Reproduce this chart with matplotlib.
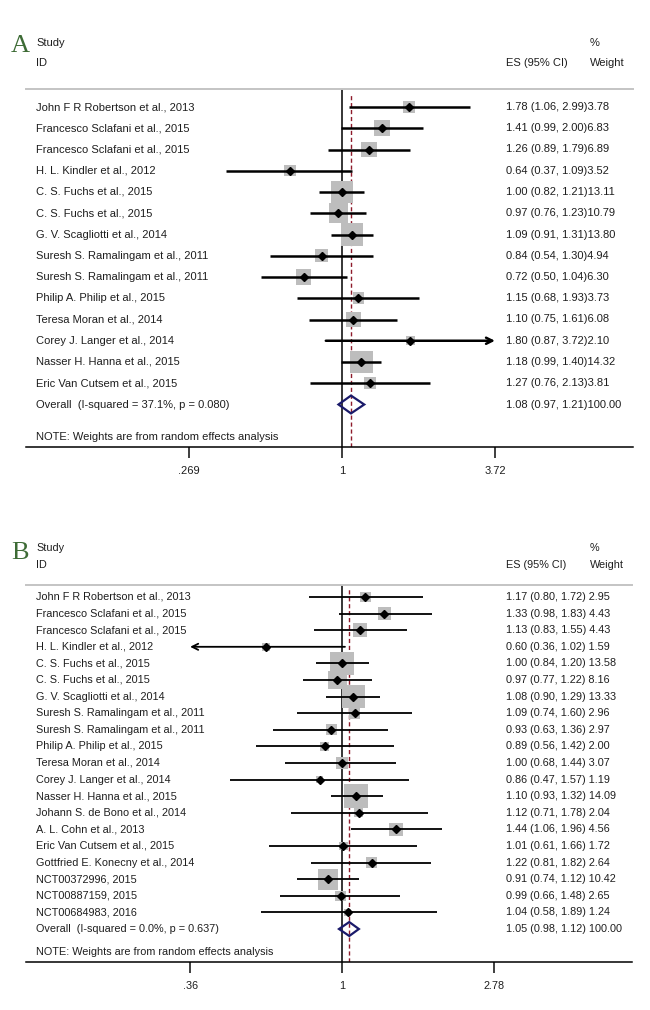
import matplotlib.pyplot as plt
import matplotlib.transforms as mtransforms
from matplotlib.patches import Polygon
from matplotlib.ticker import FixedLocator, NullLocator
import numpy as np

plt.rcParams["font.family"] = ["Liberation Sans", "DejaVu Sans"]

W, H = 650, 1010
TXT = "#1e1e1e"
BOX_GRAY = "#bdbdbd"
NAVY = "#1a1a6a"
DASH_RED = "#8e1b2b"
GREEN = "#3d6b35"

# ── panel A data ────────────────────────────────────────────
studies_a = ["John F R Robertson et al., 2013", "Francesco Sclafani et al., 2015",
             "Francesco Sclafani et al., 2015", "H. L. Kindler et al., 2012",
             "C. S. Fuchs et al., 2015", "C. S. Fuchs et al., 2015",
             "G. V. Scagliotti et al., 2014", "Suresh S. Ramalingam et al., 2011",
             "Suresh S. Ramalingam et al., 2011", "Philip A. Philip et al., 2015",
             "Teresa Moran et al., 2014", "Corey J. Langer et al., 2014",
             "Nasser H. Hanna et al., 2015", "Eric Van Cutsem et al., 2015"]
es_a = [1.78, 1.41, 1.26, 0.64, 1.00, 0.97, 1.09, 0.84, 0.72, 1.15, 1.10, 1.80, 1.18, 1.27]
lo_a = [1.06, 0.99, 0.89, 0.37, 0.82, 0.76, 0.91, 0.54, 0.50, 0.68, 0.75, 0.87, 0.99, 0.76]
hi_a = [2.99, 2.00, 1.79, 1.09, 1.21, 1.23, 1.31, 1.30, 1.04, 1.93, 1.61, 3.72, 1.40, 2.13]
w_a = [3.78, 6.83, 6.89, 3.52, 13.11, 10.79, 13.80, 4.94, 6.30, 3.73, 6.08, 2.10, 14.32, 3.81]
overall_a = (1.08, 0.97, 1.21)
overall_lbl_a = "Overall  (I-squared = 37.1%, p = 0.080)"
ticks_a = [0.269, 1, 3.72]
ticklbl_a = [".269", "1", "3.72"]

# ── panel B data ────────────────────────────────────────────
studies_b = ["John F R Robertson et al., 2013", "Francesco Sclafani et al., 2015",
             "Francesco Sclafani et al., 2015", "H. L. Kindler et al., 2012",
             "C. S. Fuchs et al., 2015", "C. S. Fuchs et al., 2015",
             "G. V. Scagliotti et al., 2014", "Suresh S. Ramalingam et al., 2011",
             "Suresh S. Ramalingam et al., 2011", "Philip A. Philip et al., 2015",
             "Teresa Moran et al., 2014", "Corey J. Langer et al., 2014",
             "Nasser H. Hanna et al., 2015", "Johann S. de Bono et al., 2014",
             "A. L. Cohn et al., 2013", "Eric Van Cutsem et al., 2015",
             "Gottfried E. Konecny et al., 2014", "NCT00372996, 2015",
             "NCT00887159, 2015", "NCT00684983, 2016"]
es_b = [1.17, 1.33, 1.13, 0.60, 1.00, 0.97, 1.08, 1.09, 0.93, 0.89,
        1.00, 0.86, 1.10, 1.12, 1.44, 1.01, 1.22, 0.91, 0.99, 1.04]
lo_b = [0.80, 0.98, 0.83, 0.36, 0.84, 0.77, 0.90, 0.74, 0.63, 0.56,
        0.68, 0.47, 0.93, 0.71, 1.06, 0.61, 0.81, 0.74, 0.66, 0.58]
hi_b = [1.72, 1.83, 1.55, 1.02, 1.20, 1.22, 1.29, 1.60, 1.36, 1.42,
        1.44, 1.57, 1.32, 1.78, 1.96, 1.66, 1.82, 1.12, 1.48, 1.89]
w_b = [2.95, 4.43, 4.43, 1.59, 13.58, 8.16, 13.33, 2.96, 2.97, 2.00,
       3.07, 1.19, 14.09, 2.04, 4.56, 1.72, 2.64, 10.42, 2.65, 1.24]
overall_b = (1.05, 0.98, 1.12)
overall_lbl_b = "Overall  (I-squared = 0.0%, p = 0.637)"
ticks_b = [0.36, 1, 2.78]
ticklbl_b = [".36", "1", "2.78"]

NOTE = "NOTE: Weights are from random effects analysis"


def fx(px):
    return px / W


def fy(py):
    return 1 - py / H


def forest(fig, box, xlim, row0_px, step_px, studies, es, lo, hi, w, overall,
           overall_lbl, ticks, ticklbls, sep, box_k, ci_lw, dm, fs,
           letter, letter_y, head_y):
    left, right, top, bottom = box
    ax = fig.add_axes([fx(left), fy(bottom), (right - left) / W, (bottom - top) / H])
    n = len(studies)
    rows = np.arange(n)
    ax.set_xscale("log")
    ax.set_xlim(*xlim)
    ax.set_ylim((bottom - row0_px) / step_px, -(row0_px - top) / step_px)

    for s in ["left", "right"]:
        ax.spines[s].set_visible(False)
    ax.spines["top"].set_color("#c4c4c4")
    ax.spines["top"].set_linewidth(1.4)
    ax.spines["bottom"].set_linewidth(1.1)
    ax.set_yticks([])
    ax.xaxis.set_major_locator(FixedLocator(ticks))
    ax.xaxis.set_minor_locator(NullLocator())
    ax.set_xticklabels(ticklbls)
    ax.tick_params(axis="x", direction="out", length=8, width=1.2,
                   labelsize=fs, pad=6, colors=TXT)

    # reference lines
    ax.axvline(1, color="black", lw=1.1, zorder=1)
    ax.axvline(overall[0], ymin=0, ymax=0.99, color=DASH_RED, lw=1.0,
               dashes=(3, 2), zorder=1)

    # boxes, CI lines, point estimates
    ax.scatter(es, rows, s=(0.72 * box_k) ** 2 * np.array(w), marker="s",
               color=BOX_GRAY, edgecolors="none", zorder=2)
    for i in rows:
        if hi[i] >= ticks[-1] * 0.995:
            ax.annotate("", xy=(ticks[-1], i), xytext=(lo[i], i),
                        arrowprops=dict(arrowstyle="->", lw=ci_lw, color="black",
                                        shrinkA=0, shrinkB=0, mutation_scale=11),
                        zorder=3)
        elif lo[i] <= ticks[0] * 1.005:
            ax.annotate("", xy=(ticks[0], i), xytext=(hi[i], i),
                        arrowprops=dict(arrowstyle="->", lw=ci_lw, color="black",
                                        shrinkA=0, shrinkB=0, mutation_scale=11),
                        zorder=3)
        else:
            ax.plot([lo[i], hi[i]], [i, i], color="black", lw=ci_lw,
                    solid_capstyle="butt", zorder=3)
    ax.plot(es, rows, "D", color="black", ms=dm, zorder=4)

    # overall diamond
    oy = n
    hh = 0.42
    ax.add_patch(Polygon([(overall[1], oy), (overall[0], oy - hh),
                          (overall[2], oy), (overall[0], oy + hh)],
                         closed=True, fill=False, edgecolor=NAVY, lw=1.6, zorder=5))

    # text columns
    tr = mtransforms.blended_transform_factory(fig.transFigure, ax.transData)
    for i in rows:
        ax.text(fx(36), i, studies[i], transform=tr, ha="left", va="center",
                fontsize=fs, color=TXT)
        ax.text(fx(506), i, f"{es[i]:.2f} ({lo[i]:.2f}, {hi[i]:.2f}){sep}{w[i]:.2f}",
                transform=tr, ha="left", va="center", fontsize=fs, color=TXT)
    ax.text(fx(36), oy, overall_lbl, transform=tr, ha="left", va="center",
            fontsize=fs, color=TXT)
    ax.text(fx(506), oy,
            f"{overall[0]:.2f} ({overall[1]:.2f}, {overall[2]:.2f}){sep}100.00",
            transform=tr, ha="left", va="center", fontsize=fs, color=TXT)
    note_row = oy + (bottom - row0_px - oy * step_px - 10) / step_px
    ax.text(fx(36), note_row, NOTE, transform=tr, ha="left", va="center",
            fontsize=fs, color=TXT)

    # headers
    y1, y2 = head_y
    fig.text(fx(36), fy(y1), "Study", ha="left", va="center", fontsize=fs, color=TXT)
    fig.text(fx(36), fy(y2), "ID", ha="left", va="center", fontsize=fs, color=TXT)
    fig.text(fx(506), fy(y2), "ES (95% CI)", ha="left", va="center", fontsize=fs, color=TXT)
    fig.text(fx(590), fy(y1), "%", ha="left", va="center", fontsize=fs, color=TXT)
    fig.text(fx(590), fy(y2), "Weight", ha="left", va="center", fontsize=fs, color=TXT)
    fig.text(fx(11), fy(letter_y), letter, ha="left", va="center", fontsize=19,
             color=GREEN, family=["Liberation Serif", "DejaVu Serif"])
    return ax


def main():
    fig = plt.figure(figsize=(W / 100, H / 100), dpi=100)
    fig.patch.set_facecolor("white")

    forest(fig, (26, 633, 89, 447), (0.0662, 12.18), 107, 21.25,
           studies_a, es_a, lo_a, hi_a, w_a, overall_a, overall_lbl_a,
           ticks_a, ticklbl_a, "", 6.0, 1.8, 4.5, 8.0, "A", 46, (43, 63))
    forest(fig, (26, 632, 585, 962), (0.1194, 7.03), 597, 16.6,
           studies_b, es_b, lo_b, hi_b, w_b, overall_b, overall_lbl_b,
           ticks_b, ticklbl_b, " ", 6.4, 1.3, 3.8, 7.8, "B", 553, (548, 565))

    fig.savefig("out.png", dpi=100, facecolor="white")
    plt.close(fig)


if __name__ == "__main__":
    main()
